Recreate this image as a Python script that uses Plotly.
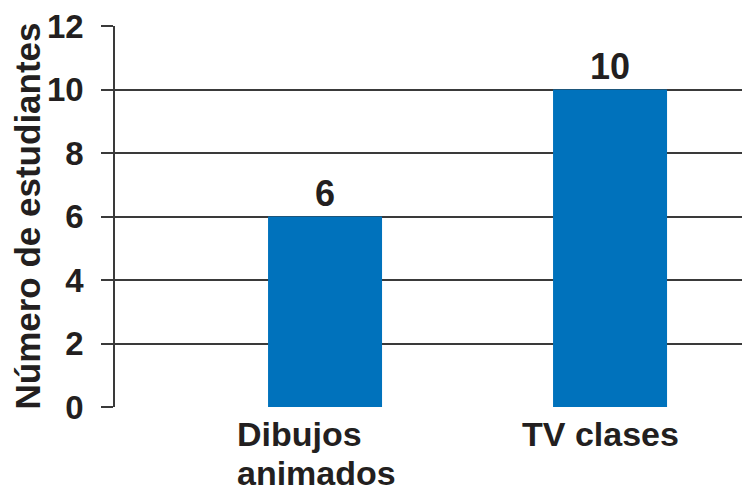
import plotly.graph_objects as go

# Data
categorias = ["Dibujos animados", "TV clases"]
lineas_etiqueta = [["Dibujos", "animados"], ["TV clases"]]
estudiantes = [6, 10]
y_ticks = [0, 2, 4, 6, 8, 10, 12]

TEXT = "#231f20"
BLUE = "#0072bc"
GRID = "#3a3a3a"
FONT = "Liberation Sans"

fig = go.Figure(
    go.Bar(
        x=categorias,
        y=estudiantes,
        width=0.40,
        marker=dict(color=BLUE, line=dict(width=0)),
        text=[str(v) for v in estudiantes],
        texttemplate="<b>%{text}</b>",
        textposition="outside",
        textfont=dict(family=FONT, size=36, color=TEXT),
        cliponaxis=False,
    )
)

# Category labels below the axis, lines left-aligned
LINE_STEP = 39
for cat, lineas in zip(categorias, lineas_etiqueta):
    for i, linea in enumerate(lineas):
        fig.add_annotation(
            x=cat, y=0, xref="x", yref="y",
            text=f"<b>{linea}</b>", showarrow=False,
            xanchor="left", yanchor="top", align="left",
            xshift=-90, yshift=-6 - i * LINE_STEP,
            font=dict(family=FONT, size=34, color=TEXT),
        )

# Vertical axis title
fig.add_annotation(
    x=0, y=0.5, xref="paper", yref="paper",
    text="<b>Número de estudiantes</b>", showarrow=False,
    textangle=-90, xanchor="center", yanchor="middle", xshift=-88,
    font=dict(family=FONT, size=35, color=TEXT),
)

fig.update_layout(
    width=742, height=491,
    margin=dict(l=115, r=0, t=26, b=84),
    plot_bgcolor="white", paper_bgcolor="white",
    showlegend=False,
    font=dict(family=FONT, color=TEXT),
)

fig.update_xaxes(
    type="category", range=[-0.737, 1.463],
    showticklabels=False, ticks="", showgrid=False,
    showline=False, zeroline=False, fixedrange=True,
)
fig.update_yaxes(
    range=[0, 12], tickvals=y_ticks,
    ticktext=[f"<b>{v}</b>" for v in y_ticks],
    tickfont=dict(family=FONT, size=33, color=TEXT),
    ticks="outside", ticklen=12, tickwidth=1.5, tickcolor=GRID,
    ticklabelstandoff=11,
    showgrid=True, gridcolor=GRID, gridwidth=1.5,
    showline=True, linecolor=GRID, linewidth=1.5,
    zeroline=False, fixedrange=True,
)

fig.write_html("out.html", config={"displayModeBar": False})
